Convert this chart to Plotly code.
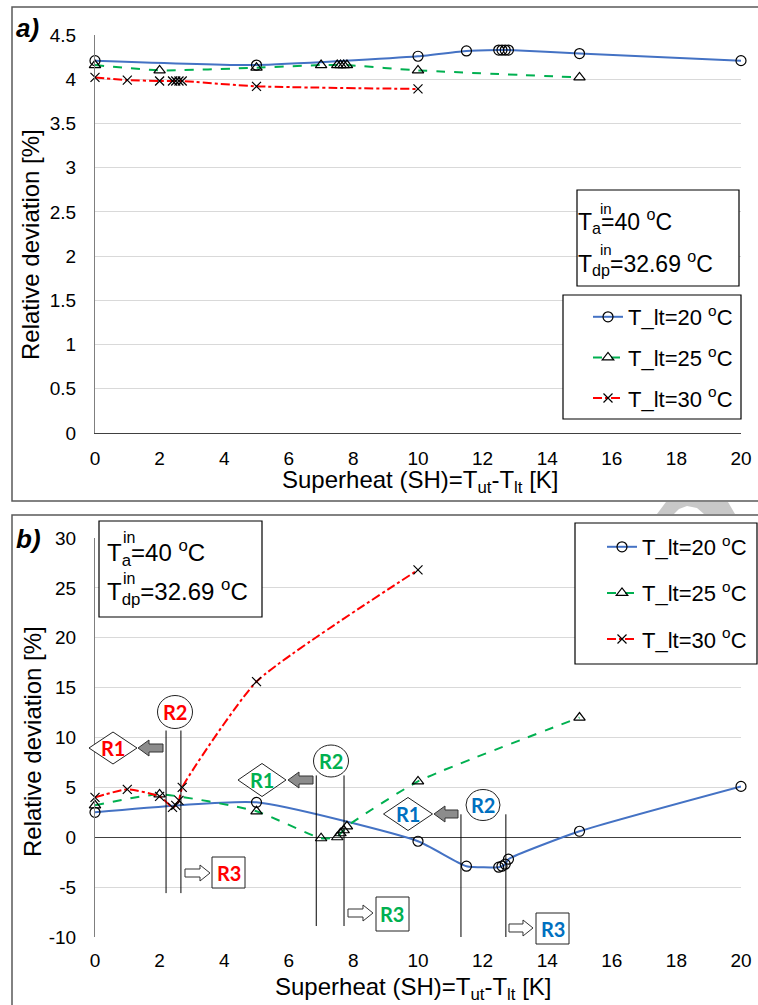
import plotly.graph_objects as go

W, H = 758, 1005

# ---------------- data ----------------
sh_20 = [0, 5, 10, 11.5, 12.5, 12.6, 12.7, 12.8, 15, 20]
sh_25 = [0, 2, 5, 7, 7.5, 7.6, 7.7, 7.8, 10, 15]
sh_30 = [0, 1, 2, 2.4, 2.5, 2.6, 2.7, 5, 10]

# panel a)
dev_a_20 = [4.21, 4.16, 4.26, 4.32, 4.33, 4.33, 4.33, 4.33, 4.29, 4.21]
dev_a_25 = [4.16, 4.10, 4.13, 4.16, 4.16, 4.16, 4.16, 4.16, 4.10, 4.02]
dev_a_30 = [4.02, 3.99, 3.98, 3.98, 3.98, 3.98, 3.98, 3.92, 3.89]

# panel b)
dev_b_20 = [2.5, 3.5, -0.4, -2.9, -3.0, -2.9, -2.7, -2.2, 0.6, 5.1]
dev_b_25 = [3.2, 4.3, 2.6, -0.1, 0.0, 0.4, 0.7, 1.1, 5.6, 12.0]
dev_b_30 = [4.0, 4.8, 4.1, 3.0, 3.2, 3.7, 5.0, 15.6, 26.8]

names = ["T_lt=20 <sup>o</sup>C", "T_lt=25 <sup>o</sup>C", "T_lt=30 <sup>o</sup>C"]

x_ticks = [0, 2, 4, 6, 8, 10, 12, 14, 16, 18, 20]
ya_ticks = [0, 0.5, 1, 1.5, 2, 2.5, 3, 3.5, 4, 4.5]
ya_labels = ["0", "0.5", "1", "1.5", "2", "2.5", "3", "3.5", "4", "4.5"]
yb_ticks = [-10, -5, 0, 5, 10, 15, 20, 25, 30]
yb_labels = ["-10", "-5", "0", "5", "10", "15", "20", "25", "30"]

# region boundaries (vertical lines) for panel b: [x_left, x_right, y_top, y_bottom]
reg_red = [2.2, 2.66, 10.7, -5.6]
reg_green = [6.85, 7.71, 6.2, -8.9]
reg_blue = [11.33, 12.72, 2.3, -10.0]

# ---------------- styles ----------------
FONT = "Liberation Sans, Arial, sans-serif"
RFONT = "Lato, Open Sans, sans-serif"
C_BLUE, C_GREEN, C_RED = "#4472C4", "#00B050", "#FF0000"
T_BLUE, T_GREEN, T_RED = "#0070C0", "#00B050", "#FF0000"

styles = [
    dict(color=C_BLUE, dash="solid", symbol="circle-open", size=10),
    dict(color=C_GREEN, dash="dash", symbol="triangle-up-open", size=10),
    dict(color=C_RED, dash="dashdot", symbol="x-thin-open", size=9),
]

fig = go.Figure()

def add_series(xs, ys, st, name, xa, ya, legend, group):
    fig.add_trace(go.Scatter(
        x=xs, y=ys, name=name, mode="lines+markers",
        xaxis=xa, yaxis=ya, legend=legend, legendgroup=group,
        line=dict(color=st["color"], dash=st["dash"], width=2, shape="spline", smoothing=0.5),
        marker=dict(symbol=st["symbol"], size=st["size"], color="black",
                    line=dict(color="black", width=1.2)),
        cliponaxis=False,
    ))

for xs, ys, st, nm, g in zip([sh_20, sh_25, sh_30], [dev_a_20, dev_a_25, dev_a_30],
                             styles, names, ["a1", "a2", "a3"]):
    add_series(xs, ys, st, nm, "x", "y", "legend", g)
for xs, ys, st, nm, g in zip([sh_20, sh_25, sh_30], [dev_b_20, dev_b_25, dev_b_30],
                             styles, names, ["b1", "b2", "b3"]):
    add_series(xs, ys, st, nm, "x2", "y2", "legend2", g)

def pxx(x):
    return x / W

def pyy(y):
    return 1 - y / H

axis_common = dict(range=[0, 20], tickvals=x_ticks, ticktext=[str(t) for t in x_ticks],
                   showgrid=False, zeroline=False, ticks="", automargin=False,
                   tickfont=dict(family=FONT, size=19, color="#000"),
                   domain=[pxx(95), pxx(741)])

fig.update_layout(
    width=W, height=H, margin=dict(l=0, r=0, t=0, b=0),
    template="none", paper_bgcolor="white", plot_bgcolor="white",
    font=dict(family=FONT, color="#000"),
    xaxis=dict(axis_common, anchor="y", showline=True, linecolor="#404040", linewidth=1,
               ticklabelstandoff=8),
    yaxis=dict(range=[0, 4.5], tickvals=ya_ticks, ticktext=ya_labels, domain=[pyy(433), pyy(35)],
               anchor="x", showgrid=True, gridcolor="#D9D9D9", gridwidth=1, zeroline=False,
               showline=True, linecolor="#7F7F7F", linewidth=1, ticks="", automargin=False,
               tickfont=dict(family=FONT, size=19, color="#000"), ticklabelstandoff=14),
    xaxis2=dict(axis_common, anchor="y2", showline=False, ticklabelstandoff=10),
    yaxis2=dict(range=[-10, 30], tickvals=yb_ticks, ticktext=yb_labels, domain=[pyy(937), pyy(538)],
                anchor="x2", showgrid=True, gridcolor="#D9D9D9", gridwidth=1,
                zeroline=True, zerolinecolor="#404040", zerolinewidth=1,
                showline=True, linecolor="#7F7F7F", linewidth=1, ticks="", automargin=False,
                tickfont=dict(family=FONT, size=19, color="#000"), ticklabelstandoff=14),
    legend=dict(x=pxx(588), xanchor="left", y=pyy(296), yanchor="top",
                bgcolor="rgba(0,0,0,0)", borderwidth=0, tracegroupgap=9,
                font=dict(family=FONT, size=22, color="#000"), itemwidth=30),
    legend2=dict(x=pxx(602), xanchor="left", y=pyy(526), yanchor="top",
                 bgcolor="rgba(0,0,0,0)", borderwidth=0, tracegroupgap=14.5,
                 font=dict(family=FONT, size=22, color="#000"), itemwidth=30),
)

shapes = []
ann = []

def ppath(points):
    return "M " + " L ".join(f"{pxx(a):.5f},{pyy(b):.5f}" for a, b in points) + " Z"

# faint watermark fragment between the panels
shapes.append(dict(type="path", xref="paper", yref="paper", layer="below",
                   path=ppath([(657, 514), (666, 502), (728, 502), (735, 514), (704, 514),
                               (697, 508), (687, 506), (679, 509), (674, 514)]),
                   fillcolor="#C8C8C8", line=dict(width=0)))

# outer panel frames
shapes.append(dict(type="rect", xref="paper", yref="paper", x0=pxx(12), x1=pxx(770),
                   y0=pyy(501), y1=pyy(7), line=dict(color="#595959", width=1.5), layer="below"))
shapes.append(dict(type="rect", xref="paper", yref="paper", x0=pxx(12), x1=pxx(770),
                   y0=pyy(1020), y1=pyy(515), line=dict(color="#595959", width=1.5), layer="below"))

def box(x0, y0, x1, y1):
    shapes.append(dict(type="rect", xref="paper", yref="paper", x0=pxx(x0), x1=pxx(x1),
                       y0=pyy(y1), y1=pyy(y0), line=dict(color="black", width=1.2),
                       fillcolor="white", layer="above"))

# info boxes and legend boxes
box(577, 190, 739, 286)
box(563, 295, 741, 419)
box(99, 521, 262, 617)
box(575, 523, 757, 664)

def text(x, y, s, size, color="#000", family=FONT, xanchor="left", angle=0):
    ann.append(dict(xref="paper", yref="paper", x=pxx(x), y=pyy(y), text=s, showarrow=False,
                    xanchor=xanchor, yanchor="middle", textangle=angle,
                    font=dict(family=family, size=size, color=color)))

# info text panel a
text(576, 221, "T<sub>a</sub>=40 <sup>o</sup>C", 23)
text(598, 208, "in", 15)
text(576, 263, "T<sub>dp</sub>=32.69 <sup>o</sup>C", 23)
text(598, 249, "in", 15)
# info text panel b
text(105, 553, "T<sub>a</sub>=40 <sup>o</sup>C", 24)
text(121, 537, "in", 16)
text(105, 592, "T<sub>dp</sub>=32.69 <sup>o</sup>C", 24)
text(121, 578, "in", 16)

# panel labels
text(14, 28, "<b><i>a)</i></b>", 26)
text(14, 539, "<b><i>b)</i></b>", 26)

# axis titles
xt = "Superheat (SH)=T<sub>ut</sub>-T<sub>lt</sub> [K]"
text(420, 481, xt, 24, xanchor="center")
text(413, 988, xt, 24, xanchor="center")
text(30, 245, "Relative deviation [%]", 24, xanchor="center", angle=-90)
text(32, 742, "Relative deviation [%]", 24, xanchor="center", angle=-90)

# region boundary lines (data coordinates)
for reg in (reg_red, reg_green, reg_blue):
    for xv in reg[:2]:
        shapes.append(dict(type="line", xref="x2", yref="y2", x0=xv, x1=xv, y0=reg[3], y1=reg[2],
                           line=dict(color="black", width=1)))

def diamond(cx, cy, w, h):
    shapes.append(dict(type="path", xref="paper", yref="paper",
                       path=ppath([(cx - w / 2, cy), (cx, cy - h / 2), (cx + w / 2, cy), (cx, cy + h / 2)]),
                       fillcolor="white", line=dict(color="#222", width=1), layer="above"))

def circ(cx, cy, w, h):
    shapes.append(dict(type="circle", xref="paper", yref="paper", x0=pxx(cx - w / 2), x1=pxx(cx + w / 2),
                       y0=pyy(cy + h / 2), y1=pyy(cy - h / 2), fillcolor="white",
                       line=dict(color="#222", width=1), layer="above"))

def rbox(x0, y0, x1, y1):
    shapes.append(dict(type="rect", xref="paper", yref="paper", x0=pxx(x0), x1=pxx(x1),
                       y0=pyy(y1), y1=pyy(y0), fillcolor="white",
                       line=dict(color="#222", width=1), layer="above"))

def arrow_left(x0, x1, cy):
    xh = x0 + 11
    pts = [(x0, cy), (xh, cy - 8), (xh, cy - 4), (x1, cy - 4), (x1, cy + 4), (xh, cy + 4), (xh, cy + 8)]
    shapes.append(dict(type="path", xref="paper", yref="paper", path=ppath(pts),
                       fillcolor="#8C8C8C", line=dict(color="#333", width=1), layer="above"))

def arrow_right(x0, x1, cy):
    xh = x1 - 10
    pts = [(x1, cy), (xh, cy - 8), (xh, cy - 4), (x0, cy - 4), (x0, cy + 4), (xh, cy + 4), (xh, cy + 8)]
    shapes.append(dict(type="path", xref="paper", yref="paper", path=ppath(pts),
                       fillcolor="white", line=dict(color="#333", width=1), layer="above"))

def rlabel(cx, cy, s, color):
    text(cx, cy, "<b>" + s + "</b>", 20, color=color, family=RFONT, xanchor="center")

# red regions
diamond(113, 748, 48, 32); rlabel(113, 748, "R1", T_RED); arrow_left(138, 163, 748)
circ(175, 712, 35, 33); rlabel(175, 712, "R2", T_RED)
rbox(212, 857, 245, 888); rlabel(228.5, 872.5, "R3", T_RED); arrow_right(185, 210, 873)
# green regions
diamond(262, 780, 48, 33); rlabel(262, 780, "R1", T_GREEN); arrow_left(288, 313, 780)
circ(331, 761, 35, 32); rlabel(331, 761, "R2", T_GREEN)
rbox(376, 897, 409, 931); rlabel(392.5, 914, "R3", T_GREEN); arrow_right(348, 373, 913)
# blue regions
diamond(408, 814, 49, 33); rlabel(408, 814, "R1", T_BLUE); arrow_left(434, 458, 814)
circ(483, 805, 34, 31); rlabel(483, 805, "R2", T_BLUE)
rbox(536, 913, 569, 944); rlabel(552.5, 928.5, "R3", T_BLUE); arrow_right(509, 533, 928)

fig.update_layout(shapes=shapes, annotations=ann)

fig.write_html("out.html", config={"displayModeBar": False},
               post_script="document.body.style.margin='0px';")
